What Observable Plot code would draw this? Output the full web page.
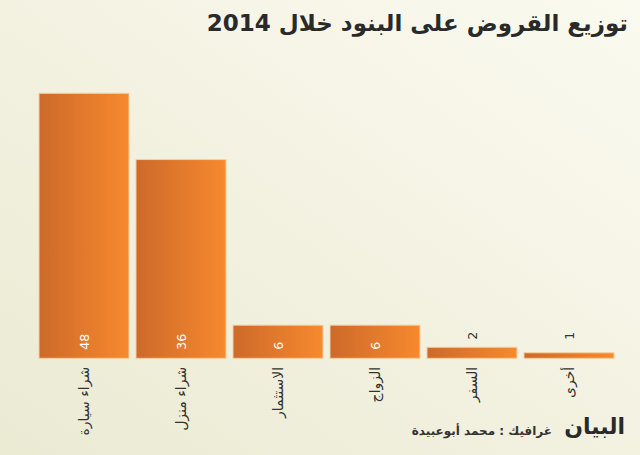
<!DOCTYPE html>
<html><head><meta charset="utf-8">
<script src="https://cdn.jsdelivr.net/npm/d3@7"></script>
<script src="https://cdn.jsdelivr.net/npm/@observablehq/plot@0.6"></script>
<style>
html,body{margin:0;padding:0;}
body{width:640px;height:455px;overflow:hidden;position:relative;
  background:linear-gradient(to bottom left,#fbfaf0,#ebead3);
  font-family:"DejaVu Sans",sans-serif;}
#title{position:absolute;right:12px;top:5px;font-size:23px;font-weight:bold;color:#2a2a2a;line-height:36px;white-space:nowrap;}
#chart{position:absolute;left:0;top:60px;}
#logo{position:absolute;right:15px;top:413px;font-size:22px;font-weight:bold;color:#2a2a2a;line-height:28px;}
#credit{position:absolute;right:88px;top:423px;font-size:12px;font-weight:bold;color:#333;line-height:16px;white-space:nowrap;}
</style></head><body>
<div id="title" dir="rtl"></div>
<div id="chart"></div>
<div id="logo" dir="rtl"></div>
<div id="credit" dir="rtl"></div>
<script>
const titleText = "توزيع القروض على البنود خلال 2014";
const categories = ["شراء سيارة", "شراء منزل", "الاستثمار", "الزواج", "السفر", "أخرى"];
const values = [48, 36, 6, 6, 2, 1];
const logoText = "البيان";
const creditText = "غرافيك : محمد أبوعبيدة";

document.getElementById("title").textContent = titleText;
document.getElementById("logo").textContent = logoText;
document.getElementById("credit").textContent = creditText;

const data = categories.map((c, i) => ({category: c, value: values[i]}));
const big = data.filter(d => d.value >= 6);
const small = data.filter(d => d.value < 6);

const defs = () => {
  const d = d3.create("svg:defs");
  const g = d.append("linearGradient").attr("id", "barGrad").attr("x1", 0).attr("x2", 1).attr("y1", 0).attr("y2", 0);
  g.append("stop").attr("offset", "0%").attr("stop-color", "#cd6a2a");
  g.append("stop").attr("offset", "100%").attr("stop-color", "#f7892e");
  return d.node();
};

const chart = Plot.plot({
  width: 640,
  height: 395,
  marginLeft: 37.5,
  marginRight: 25,
  marginTop: 33.3,
  marginBottom: 96.7,
  style: {background: "transparent", fontFamily: "DejaVu Sans, sans-serif"},
  x: {domain: categories, paddingInner: 0.077, paddingOuter: 0, axis: null},
  y: {domain: [0, 48], axis: null},
  marks: [
    defs,
    Plot.barY(data, {x: "category", y: "value", fill: "url(#barGrad)", stroke: "#f6cf9f", strokeWidth: 1}),
    Plot.text(big, {x: "category", y: () => 0, text: d => String(d.value), rotate: -90, textAnchor: "start", dy: -9, fill: "white", fontSize: 12.5}),
    Plot.text(small, {x: "category", y: () => 0, text: d => String(d.value), rotate: -90, textAnchor: "start", dy: -19, fill: "#333", fontSize: 12.5}),
    Plot.text(data, {x: "category", y: () => 0, text: "category", rotate: -90, textAnchor: "end", dy: 8, fill: "#333", fontSize: 14})
  ]
});
document.getElementById("chart").appendChild(chart);
</script>
</body></html>
